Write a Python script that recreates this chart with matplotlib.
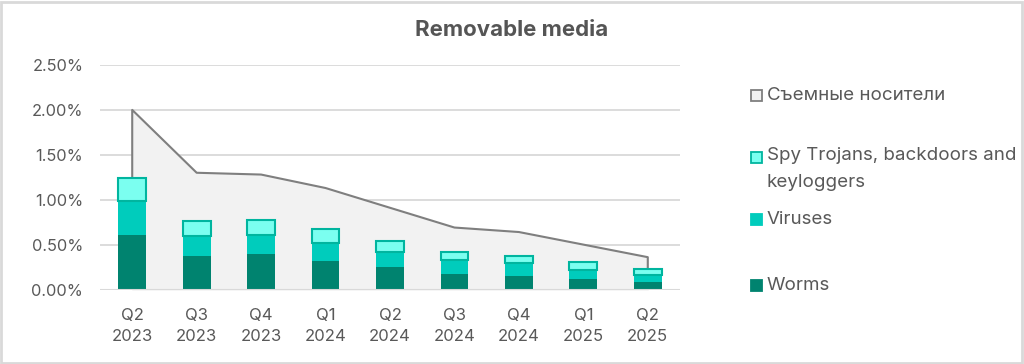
import numpy as np
import matplotlib.pyplot as plt
from matplotlib.patches import Rectangle
from matplotlib.ticker import FuncFormatter

plt.rcParams['font.family'] = ['Inter', 'DejaVu Sans']

quarters = ['Q2\n2023', 'Q3\n2023', 'Q4\n2023', 'Q1\n2024', 'Q2\n2024',
            'Q3\n2024', 'Q4\n2024', 'Q1\n2025', 'Q2\n2025']
removable = [2.00, 1.30, 1.28, 1.13, 0.91, 0.69, 0.64, 0.50, 0.36]
worms = [0.61, 0.37, 0.39, 0.32, 0.25, 0.17, 0.15, 0.12, 0.085]
viruses = [0.38, 0.23, 0.22, 0.20, 0.17, 0.16, 0.14, 0.10, 0.075]
spy = [0.25, 0.16, 0.165, 0.15, 0.125, 0.09, 0.085, 0.085, 0.07]

labels = ['Съемные носители', 'Spy Trojans, backdoors and\nkeyloggers', 'Viruses', 'Worms']

c_worms = '#00836f'
c_vir = '#00ccbc'
c_spy = '#7bfff0'
c_spy_edge = '#00b59f'
c_area = '#f2f2f2'
c_area_edge = '#7f7f7f'
txt = '#595959'

fig = plt.figure(figsize=(10.24, 3.64), dpi=100)
ax = fig.add_axes([100/1024, 1 - 289.5/364, 580/1024, 224.5/364])

x = np.arange(len(quarters))
ax.fill_between(x, removable, 0, color=c_area, zorder=1)
ax.plot(np.r_[x[0], x, x[-1]], np.r_[0, removable, 0], color=c_area_edge, lw=1.5, zorder=2)

w = 0.43
ax.bar(x, worms, w, color=c_worms, zorder=3)
ax.bar(x, viruses, w, bottom=worms, color=c_vir, zorder=3)
ax.bar(x, spy, w, bottom=np.add(worms, viruses), color=c_spy,
       edgecolor=c_spy_edge, linewidth=1.5, zorder=3)

ax.set_xlim(-0.5, len(quarters) - 0.5)
ax.set_ylim(0, 2.5)
ax.set_yticks(np.arange(0, 2.51, 0.5))
ax.yaxis.set_major_formatter(FuncFormatter(lambda v, p: f'{v:.2f}%'))
ax.set_xticks(x)
ax.set_xticklabels(quarters)
ax.grid(axis='y', color='#d9d9d9', lw=1.3, zorder=0)
ax.set_axisbelow(True)
for s in ax.spines.values():
    s.set_visible(False)
ax.axhline(0, color='#d9d9d9', lw=1.5, zorder=4)
ax.tick_params(axis='y', length=0, labelsize=11.8, labelcolor=txt, pad=12)
ax.tick_params(axis='x', length=0, labelsize=12, labelcolor=txt, pad=13.5)
for t in ax.get_xticklabels():
    t.set_linespacing(1.5)

fig.text(0.5, 1 - 30/364, 'Removable media', ha='center', va='center',
         fontsize=16, fontweight='bold', color='#555555')

# legend
leg = [(95, c_area, c_area_edge), (157, c_spy, c_spy_edge),
       (219, c_vir, c_vir), (285, c_worms, c_worms)]
for (yy, fc, ec), lab in zip(leg, labels):
    fig.add_artist(Rectangle((751/1024, 1 - (yy + 5.5)/364), 11/1024, 11/364,
                             facecolor=fc, edgecolor=ec, lw=1.3,
                             transform=fig.transFigure))
    fig.text(767/1024, 1 - yy/364, lab, ha='left', va='center',
             fontsize=13.5, color=txt, linespacing=1.75,
             transform=fig.transFigure)
# put first line of the two-line label on its marker
fig.texts[-3].set_va('top')
fig.texts[-3].set_y(1 - 147/364)

fig.add_artist(Rectangle((1/1024, 1/364), 1021/1024, 361/364, fill=False,
                         edgecolor='#d9d9d9', lw=2, transform=fig.transFigure))

fig.savefig('out.png', dpi=100)
